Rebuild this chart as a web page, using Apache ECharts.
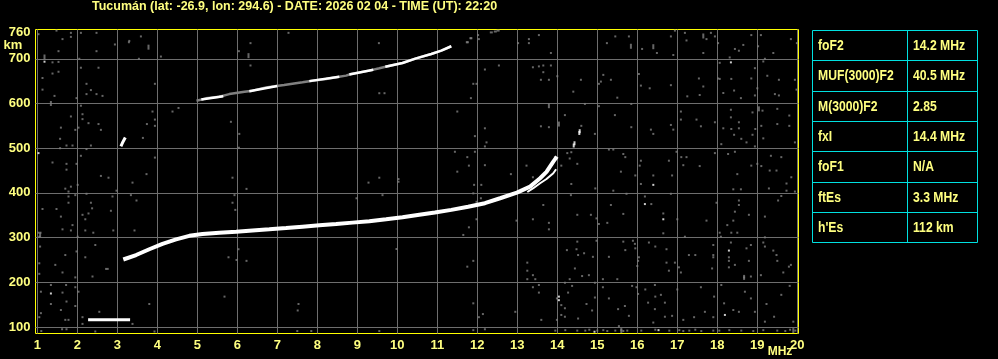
<!DOCTYPE html>
<html><head><meta charset="utf-8">
<script src="https://cdn.jsdelivr.net/npm/echarts@6/dist/echarts.min.js"></script>
<style>html,body{margin:0;padding:0;background:#000;}#c{width:998px;height:359px;}</style>
</head><body><div id="c"></div>
<script>
const titleText = 'Tucumán (lat: -26.9, lon: 294.6) - DATE: 2026 02 04 - TIME (UT): 22:20';
const freqTicks = [1,2,3,4,5,6,7,8,9,10,11,12,13,14,15,16,17,18,19,20];
const heightGrid = [100,200,300,400,500,600,700];
const heightLabels = [100,200,300,400,500,600,700,760];
const tableLabels = ['foF2','MUF(3000)F2','M(3000)F2','fxI','foF1','ftEs',"h'Es"];
const tableValues = ['14.2 MHz','40.5 MHz','2.85','14.4 MHz','N/A','3.3 MHz','112 km'];

// Ordinary-wave F trace (MHz, km)
const fTraceO = [[3.15,251],[3.47,261],[3.8,274],[4.13,286],[4.47,296],[4.8,304],[5.13,308],[5.55,311],[5.97,313],[6.38,316],[6.8,318.5],[7.22,321.5],[7.63,324.5],[8.05,327.5],[8.47,330.5],[8.88,333.5],[9.3,336.5],[9.72,341],[10.13,345.5],[10.55,351],[10.94,356],[11.35,362],[11.77,369],[12.19,377],[12.57,388],[12.99,400.5],[13.32,414],[13.57,432.7],[13.73,447],[13.9,470],[13.99,481]];
// Extraordinary branch
const fTraceX = [[13.25,402],[13.4,410.5],[13.57,421.5],[13.73,431],[13.9,444],[13.97,453]];
const xTraceDots = [[14.41,506],[14.43,511],[14.55,534],[14.56,538]];
// Sporadic E trace
const esTrace = [[2.27,116],[2.6,116],[3.0,116.5],[3.32,116]];
// small echo near 3.1 MHz
const smallTrace = [[3.09,504],[3.14,514],[3.2,524]];
// Second-hop F trace (full, grey) and its bright parts
const f2Trace = [[4.98,606],[5.22,611.5],[5.55,615],[5.8,621],[6.18,626.5],[6.38,628.7],[6.72,636],[6.93,638.4],[7.17,641.4],[7.63,647.4],[7.88,651],[8.22,654.8],[8.47,658.6],[8.72,662.3],[8.84,666],[9.3,673.5],[9.55,678.7],[9.76,683.2],[10.13,690.6],[10.47,701],[10.85,710.8],[11.1,718.2],[11.35,728]];
const f2Bright = [[5.1,609],[5.65,616],null,[6.3,627.5],[7.0,639],null,[7.8,650],[8.55,660],null,[8.8,665],[9.4,675.5],null,[9.7,682],[10.13,690.6],[10.47,701],[10.85,710.8],[11.1,718.2],[11.35,728]];
const f2TopDots = [[11.75,737],[11.84,746],[12.35,759],[12.45,761],[12.52,763]];

const noise = [
[1.03,755],[1.48,763],[1.84,758],[1.84,749],[2.09,758],[2.48,758],[1.63,744],[1.53,717],[2.48,717],[2.94,732],[3.3,740],[3.29,737],[3.59,750],[4.09,705],[3.54,700],[1.38,692],[1.53,693],[2.05,700],[2.09,680],[2.53,680],[1.38,667],[1.53,671],[1.13,657],[2.23,644],[2.34,630],[2.48,621],[2.63,617],[2.23,621],[1.13,631],[1.43,617],[1.98,612],[2.09,595],[2.13,576],[2.13,565],[1.84,571],[2.28,556],[2.53,554],[1.59,546],[2.03,546],[1.95,541],[2.59,541],[3.88,582],[3.94,564],[3.94,550],[3.74,554],[3.64,523],[4.38,582],[4.53,590],[5.84,559],[6.05,532],[6.04,501],[1.57,521],[1.57,500],[1.73,506],[1.88,506],[2.23,498],[2.34,506],[2.09,483],[1.38,468],[1.73,465],[1.98,465],[1.73,452],[2.59,438],[2.78,434],[3.73,442],[3.94,479],[5.88,434],[9.55,434],[10.03,431],[9.55,623],[9.68,623],[9.54,735],[6.33,735],[6.04,717],[6.33,685],[7.28,758],[3.94,644],
[12.02,753],[12.04,744],[11.84,746],[11.75,737],[13.02,735],[13.29,744],[13.29,735],[13.54,753],[13.84,713],[15.45,750],[15.79,750],[15.24,735],[16.12,722],[16.49,713],[16.9,708.5],[16.84,750],[16.94,763],[17.19,758],[17.23,741],[17.73,744],[17.84,758],[17.94,750],[17.65,713],[18.02,735],[18.31,703],[18.44,722],[18.54,718],[18.65,731],[18.85,753],[19.09,753],[19.02,728],[19.15,694],[19.4,713],[19.84,744],[19.99,735],[18.06,691],[18.02,656],[18.06,655],[18.35,655],[18.85,656],[19.19,700],[18.94,679],[19.25,662],[19.54,653],[19.94,653],[12.19,676],[12.54,685],[13.39,681],[13.54,683],[13.65,685],[13.65,670],[13.84,685],[13.59,653],[13.79,653],[14.0,661],[14.59,653],[15.15,664],[15.09,649],[15.34,653],[15.04,644],[11.9,644],[11.98,644],[11.84,612],[14.4,626.5],[15.5,613],[15.85,599],[16.04,666],[16.09,640],[16.31,634],[16.84,641],[17.54,656],[17.65,638],[17.25,616],[17.56,619],[18.15,623.5],[18.42,629],[18.59,612],[18.94,618],[19.0,634],[19.44,621],[19.54,618],[19.98,631],
[11.5,582],[11.94,527],[12.19,544.5],[12.23,513],[12.19,504],[13.59,549],[13.79,547],[14.19,574],[14.69,599],[14.6,550],[14.94,532],[15.04,594],[15.44,574],[15.85,547],[16.34,541.5],[16.4,532],[16.84,552],[16.9,541.5],[17.09,582],[17.09,564],[17.48,564],[17.59,549],[17.94,558],[18.15,544.5],[18.34,586],[18.35,543],[18.54,558],[18.54,544.5],[18.42,530],[18.88,580],[19.13,584],[18.95,543],[18.88,530],[19.1,550],[19.15,522],[19.5,588],[19.5,554],[19.8,573],[19.8,550],[18.34,569],[19.94,513],
[11.44,492],[11.75,480],[11.79,461],[11.94,492],[11.5,447.5],[12.19,462],[12.84,442],[13.23,461],[13.39,435],[13.94,480],[14.1,461],[14.25,489],[14.31,477],[14.35,491],[14.5,465],[15.29,497],[15.4,497],[15.65,487],[15.7,480],[15.59,447.5],[15.95,439],[16.06,461],[16.09,472],[16.4,439],[16.79,472],[16.98,492],[17.1,480],[17.15,462],[17.23,480],[17.56,460],[17.94,489],[18.1,509],[18.27,487],[18.44,492],[18.5,442],[18.73,513],[18.85,461],[19.0,465],[19.1,460],[19.34,483],[19.31,450],[19.48,450],[19.6,480],[19.85,435],[18.6,521],[18.94,504],[16.87,439],
[2.01,418],[1.84,414],[1.7,409.5],[1.78,403],[3.38,423],[2.98,405],[2.23,398],[1.95,395],[1.78,392],[2.88,392],[3.34,395],[3.48,383],[1.78,378],[1.13,364],[1.48,364],[2.34,378],[2.28,354],[2.13,351],[2.37,365.5],[2.84,360],[1.59,347],[2.2,341],[1.88,328],[1.63,318.5],[1.84,316],[1.03,311],[1.08,311],[2.2,316],[2.4,311],[2.9,316],[3.43,316],[1.05,302],[2.01,302],[2.45,283.5],[1.07,280],[1.98,269],[1.7,261],[2.2,256],[1.05,242.5],[1.45,239],[2.72,230],[2.76,230],[1.63,222],[2.38,213],[1.95,211],[1.05,219],[1.34,194],[1.72,194],[1.95,189],[2.03,179],[1.09,179],[1.63,177],[1.34,151.5],[1.95,147],[1.73,157],[1.59,138],[1.09,131],[1.7,116],[1.78,116],[1.05,122],[2.13,122],[2.13,107],[2.55,134],[3.38,107],[1.62,95],[1.73,95],[3.8,151.5],[5.78,256],[5.98,250],[6.23,248],[6.03,274],[5.93,395],[5.88,378],[5.95,362],[6.23,409],[5.68,168],[7.53,151.5],[7.51,137],[8.98,388],[9.28,423],[9.63,395],[9.98,274.5],[10.03,425],
[11.92,418],[12.1,418],[11.9,399],[12.09,388],[11.98,380],[12.35,380],[11.98,341],[11.79,323],[11.65,306],[11.9,248],[11.75,235],[12.98,338],[13.65,373],[13.79,333],[13.79,318.5],[13.39,341],[13.25,244],[13.25,226],[13.39,216],[13.25,207],[13.45,207],[13.54,194],[13.39,189],[13.54,177],[12.95,134],[12.14,129],[12.04,122],[11.9,153],[11.9,93],[12.19,95],[13.6,116],[13.99,164],[14.1,149],[14.1,127],[13.99,116],[14.19,142],[14.35,420],[14.34,395],[14.5,351],[14.84,351],[14.95,410],[14.98,343],[15.04,330.5],[15.25,333],[15.34,373],[15.4,405],[15.65,353],[15.73,398],[16.09,420],[16.19,392],[16.35,375],[16.65,354],[16.65,309.6],[16.84,398],[17.0,341],[17.19,302],[17.73,338],[17.98,378],[18.06,311],[18.09,302],[18.35,311],[18.5,311],[18.25,328],[18.4,338],[18.44,358],[18.54,383],[18.54,373],[18.79,351],[19.19,347],[19.52,383],[19.6,393],[19.29,410],[19.73,421],[19.73,405],[19.94,403],[18.59,408],[18.4,408],[19.19,300.6],
[14.5,291],[14.48,274],[14.24,272],[14.52,261],[14.44,231],[14.62,214],[14.79,216],[14.31,207],[14.67,265],[14.89,257],[14.98,293],[15.29,257],[15.14,207],[15.5,207],[15.65,291],[15.7,272],[15.89,293],[15.94,286],[15.95,276],[16.04,256],[16.02,248],[16.0,236.5],[16.29,289],[16.45,280],[16.73,274],[16.73,244],[16.94,244],[16.79,226],[17.04,233.5],[17.09,222],[17.29,261],[17.45,261],[17.9,283.5],[17.9,261],[17.9,256],[17.87,231],[18.34,289],[18.29,256],[18.29,248],[18.29,233.5],[18.44,239],[18.73,276],[18.79,248],[18.84,283.5],[18.84,213],[18.67,211],[19.15,289],[19.19,280],[19.4,271],[19.48,261],[19.5,248],[19.84,239],[19.79,235],[19.65,222],[19.09,216],
[16.2,184],[16.44,194],[16.27,154.5],[16.45,168],[16.59,172],[16.69,154.5],[16.44,140],[16.69,123],[16.4,110],[16.87,125],[17.0,184],[17.59,189],[17.92,168],[18.1,194],[18.17,153],[18.4,138],[18.54,134],[18.69,179],[18.84,164],[18.94,134],[19.23,151.5],[19.6,172],[19.42,123],[19.81,192],[19.9,112],[19.19,112],[17.69,134],[17.42,122],[17.9,122],[17.15,116],[15.79,125],[15.54,102],[15.87,192],[16.02,174],[15.98,189],[15.69,147],[15.14,189],[14.94,166],[14.73,151.5],[14.87,137],[15.29,164],[15.52,140],[14.52,119],[14.19,123],[14.27,177],[14.37,192],[14.19,199],[14.94,199],
[14.5,92],[14.7,92],[14.8,94],[15.0,92],[15.15,93],[15.25,91],[15.45,92],[15.6,93],[15.65,91],[15.75,92],[16.1,92],[16.45,94],[16.8,92],[17.05,93],[17.15,91],[17.3,92],[17.45,94],[17.6,91],[17.9,92],[18.05,92],[18.3,93],[18.6,92],[18.9,91],[19.15,93],[19.5,92],[19.7,91],[19.82,94],[19.95,92],[13.95,92],[14.2,93],[1.1,91],[2.45,90],[3.93,90],[7.5,91],[7.85,91],[9.55,91]
];
const noiseTall = [[1.18,704],[1.34,600],[3.78,726],[6.28,707],[15.84,728],[16.4,727],[17.65,751],[13.79,595],[14.04,554],[19.04,588],[18.67,211],[19.9,92],[15.6,92],[1.07,306]];
const whiteDots = [[1.18,693.5],[1.03,489],[1.34,175],[18.34,692],[16.4,418],[16.19,375],[16.65,341],[18.29,271],[18.19,127],[14.04,168],[14.04,160],[14.93,89.5],[16.53,93]];

const yellowText = '#ffff80';
const gridGrey = '#6e6e6e';
const noiseGrey = '#808080';
const labelFont = "'Liberation Sans', Arial, sans-serif";

const chart = echarts.init(document.getElementById('c'), null, {renderer: 'canvas'});

const tbl = {x0: 812, x1: 977, xm: 907, y0: 30, rowH: 30.33};
const tableGraphics = [];
tableGraphics.push({type: 'rect', shape: {x: tbl.x0 + 0.5, y: tbl.y0 + 0.5, width: tbl.x1 - tbl.x0, height: Math.round(tbl.rowH * tableLabels.length)}, style: {fill: 'none', stroke: '#00e0e0', lineWidth: 1}, silent: true});
tableGraphics.push({type: 'line', shape: {x1: tbl.xm + 0.5, y1: tbl.y0, x2: tbl.xm + 0.5, y2: tbl.y0 + tbl.rowH * tableLabels.length}, style: {stroke: '#00e0e0', lineWidth: 1}, silent: true});
tableLabels.forEach((lab, i) => {
  const yTop = Math.round(tbl.y0 + tbl.rowH * i) + 0.5;
  if (i > 0) tableGraphics.push({type: 'line', shape: {x1: tbl.x0, y1: yTop, x2: tbl.x1, y2: yTop}, style: {stroke: '#00e0e0', lineWidth: 1}, silent: true});
  const yc = tbl.y0 + tbl.rowH * (i + 0.5) + 1;
  tableGraphics.push({type: 'text', x: tbl.x0 + 6, y: yc, scaleX: 0.87, style: {text: lab, fill: yellowText, font: "bold 14px " + labelFont, verticalAlign: 'middle', align: 'left'}, silent: true});
  tableGraphics.push({type: 'text', x: tbl.xm + 6, y: yc, scaleX: 0.87, style: {text: tableValues[i], fill: yellowText, font: "bold 14px " + labelFont, verticalAlign: 'middle', align: 'left'}, silent: true});
});

const option = {
  backgroundColor: '#000000',
  animation: false,
  grid: {left: 35.5, right: 199.5, top: 29.5, bottom: 25.5, show: true, borderColor: '#ffff00', borderWidth: 1, backgroundColor: 'transparent'},
  xAxis: {
    type: 'value', min: 0.955, max: 20.03,
    axisLine: {show: false},
    axisTick: {show: false, customValues: freqTicks},
    splitLine: {show: true, lineStyle: {color: gridGrey, width: 1}},
    axisLabel: {customValues: freqTicks, color: yellowText, fontWeight: 'bold', fontSize: 13, fontFamily: labelFont, margin: 5}
  },
  yAxis: {
    type: 'value', min: 85.5, max: 765.5,
    axisLine: {show: false},
    axisTick: {show: false, customValues: heightGrid},
    splitLine: {show: true, lineStyle: {color: gridGrey, width: 1}},
    axisLabel: {customValues: heightLabels, color: yellowText, fontWeight: 'bold', fontSize: 13, fontFamily: labelFont, margin: 5}
  },
  graphic: [
    {type: 'text', x: 92, y: 6.5, style: {text: titleText, fill: yellowText, font: "bold 12.5px 'Liberation Sans', Arial, sans-serif", verticalAlign: 'middle'}, silent: true},
    {type: 'text', x: 13, y: 45, style: {text: 'km', fill: yellowText, font: "bold 13px " + labelFont, verticalAlign: 'middle', align: 'center'}, silent: true},
    {type: 'text', x: 780, y: 352, style: {text: 'MHz', fill: yellowText, font: "bold 12px " + labelFont, verticalAlign: 'middle', align: 'center'}, silent: true}
  ].concat(tableGraphics),
  series: [
    {type: 'scatter', data: noise, symbol: 'rect', symbolSize: 2, itemStyle: {color: noiseGrey}, silent: true},
    {type: 'scatter', data: noiseTall, symbol: 'rect', symbolSize: [2, 5], itemStyle: {color: noiseGrey}, silent: true},
    {type: 'line', data: f2Trace, symbol: 'none', lineStyle: {color: noiseGrey, width: 2.5}, silent: true},
    {type: 'line', data: f2Bright, symbol: 'none', connectNulls: false, lineStyle: {color: '#ffffff', width: 2.5}, silent: true},
    {type: 'scatter', data: f2TopDots, symbol: 'rect', symbolSize: [3, 2], itemStyle: {color: noiseGrey}, silent: true},
    {type: 'line', data: esTrace, symbol: 'none', lineStyle: {color: '#ffffff', width: 3}, silent: true},
    {type: 'line', data: smallTrace, symbol: 'none', lineStyle: {color: '#ffffff', width: 3}, silent: true},
    {type: 'line', data: fTraceO, symbol: 'none', lineStyle: {color: '#ffffff', width: 4}, silent: true},
    {type: 'line', data: fTraceX, symbol: 'none', lineStyle: {color: '#ffffff', width: 2}, silent: true},
    {type: 'scatter', data: xTraceDots, symbol: 'rect', symbolSize: [2, 4], itemStyle: {color: '#ffffff'}, silent: true},
    {type: 'scatter', data: whiteDots, symbol: 'rect', symbolSize: 2, itemStyle: {color: '#ffffff'}, silent: true}
  ]
};
chart.setOption(option);
</script>
</body></html>
